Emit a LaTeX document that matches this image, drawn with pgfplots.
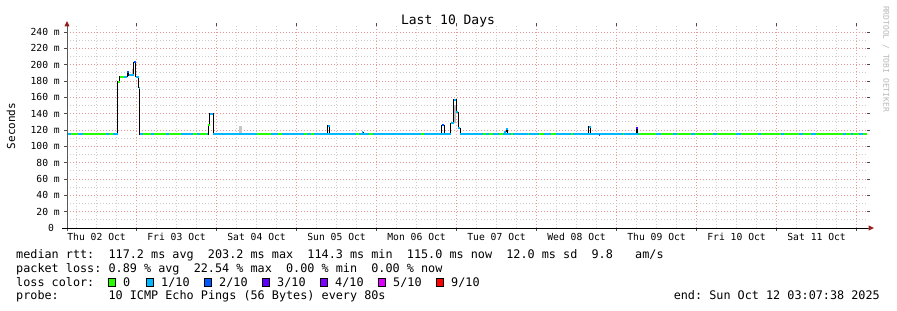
\documentclass[border=0pt]{standalone}
\usepackage{fontspec}
\setmainfont{DejaVu Sans Mono}
\usepackage{pgfplots}
\pgfplotsset{compat=1.18}
\definecolor{lc0}{HTML}{26FF00}
\definecolor{lc1}{HTML}{00B8FF}
\definecolor{lc2}{HTML}{0059FF}
\definecolor{lc3}{HTML}{5E00FF}
\definecolor{lc4}{HTML}{7E00FF}
\definecolor{lc5}{HTML}{DD00FF}
\definecolor{lc9}{HTML}{FF0000}
\definecolor{mgrid}{RGB}{235,150,150}
\definecolor{ngrid}{RGB}{205,205,205}
\definecolor{arrowc}{RGB}{150,30,30}
\newcommand\legfont{\fontsize{11.8bp}{14bp}\selectfont}
\newcommand\tickfont{\fontsize{9.7bp}{11bp}\selectfont}
\begin{document}
\begin{tikzpicture}[x=1bp,y=1bp]
\path[use as bounding box] (0,0) rectangle (897,310);
\begin{axis}[
  at={(67bp,82bp)}, anchor=south west,
  scale only axis, width=800bp, height=202bp,
  xmin=3.127, xmax=243.127, ymin=0, ymax=247.3,
  clip=false,
  axis line style={draw=none},
  xtick={24,48,...,240}, xticklabels={},
  minor xtick={6,12,...,240},
  extra x ticks={12,36,...,228},
  extra x tick labels={Thu 02 Oct, Fri 03 Oct, Sat 04 Oct, Sun 05 Oct, Mon 06 Oct, Tue 07 Oct, Wed 08 Oct, Thu 09 Oct, Fri 10 Oct, Sat 11 Oct},
  extra x tick style={grid=none, major tick length=0pt},
  ytick={0,20,...,240},
  yticklabels={0~~,20 m,40 m,60 m,80 m,100 m,120 m,140 m,160 m,180 m,200 m,220 m,240 m},
  minor ytick={10,30,...,230},
  grid=both,
  major grid style={mgrid, dash pattern=on 1bp off 2bp, line width=0.9bp},
  minor grid style={ngrid, dash pattern=on 1bp off 2bp, line width=0.9bp},
  tick align=outside, major tick length=3bp, minor tick length=0bp,
  tick style={black!70, line width=0.8bp},
  xticklabel style={anchor=north, inner sep=0pt, yshift=-5bp, font=\tickfont},
  yticklabel style={anchor=east, inner sep=0pt, xshift=-4bp, font=\tickfont},
]
% smoke
\addplot[fill=gray!55, draw=none] coordinates {(22.5,187) (23.2,187) (23.2,195) (22.5,195)};
\addplot[fill=gray!45, draw=none] coordinates {(54.7,116) (55.5,116) (55.5,125) (54.7,125)};
\addplot[fill=gray!50, draw=none] coordinates {(119.2,128) (119.9,128) (119.9,150) (119.2,150)};
% median (black steps)
\addplot[black, line width=1bp, const plot, mark=none] coordinates {
(3.127,115) (18.39,179) (18.99,185) (21.2,191) (21.7,187) (23.2,203) (23.8,185) (24.6,172) (25.0,115)
(45.5,126) (46.0,140) (47.0,115) (81.4,125) (81.9,115) (91.7,117) (92.0,115)
(115.6,126) (116.3,115) (118.2,128) (119.2,157) (119.9,142) (120.5,122) (121.1,115)
(134.3,118) (134.9,121) (135.4,115) (159.7,124) (160.3,115) (162.7,114) (163.0,115)
(173.9,123) (174.3,115) (243.127,115)};
% loss 1/10
\addplot[lc1, line width=2bp, mark=none, unbounded coords=jump] coordinates {
(3.127,115) (18.39,115) (18.39,nan)
(25.0,115) (45.5,115) (45.5,nan)
(47.0,115) (118.2,115) (118.2,nan)
(121.1,115) (243.127,115) (243.127,nan)
(20.1,185) (21.2,185) (21.2,nan)
(21.7,187) (23.2,187) (23.2,nan)
(23.8,185) (24.6,185) (24.6,nan)
(24.6,172) (25.0,172) (25.0,nan)
(46.0,140) (47.0,140) (47.0,nan)
(81.4,125) (81.9,125) (81.9,nan)
(91.7,117) (92.0,117) (92.0,nan)
(118.2,128) (119.2,128) (119.2,nan)
(119.2,157) (119.9,157) (119.9,nan)
(119.9,142) (120.5,142) (120.5,nan)
(120.5,122) (121.1,122) (121.1,nan)
(134.3,118) (134.9,118) (134.9,nan)
(134.9,121) (135.4,121) (135.4,nan)
(159.7,124) (160.3,124)};
% loss 0
\addplot[lc0, line width=2bp, mark=none, unbounded coords=jump] coordinates {
(18.39,179) (18.99,179) (18.99,nan)
(18.99,185) (20.1,185) (20.1,nan)
(45.5,126) (46.0,126) (46.0,nan)
(4.2,115) (6.3,115) (6.3,nan)
(7.8,115) (14.7,115) (14.7,nan)
(15.6,115) (16.8,115) (16.8,nan)
(25.8,115) (28.2,115) (28.2,nan)
(29.1,115) (32.7,115) (32.7,nan)
(33.6,115) (37.2,115) (37.2,nan)
(40.8,115) (42.0,115) (42.0,nan)
(42.9,115) (45.0,115) (45.0,nan)
(60.0,115) (64.2,115) (64.2,nan)
(66.3,115) (67.5,115) (67.5,nan)
(74.1,115) (75.0,115) (75.0,nan)
(76.2,115) (77.1,115) (77.1,nan)
(89.7,115) (90.6,115) (90.6,nan)
(93.6,115) (94.8,115) (94.8,nan)
(109.2,115) (110.1,115) (110.1,nan)
(127.8,115) (128.7,115) (128.7,nan)
(129.6,115) (130.8,115) (130.8,nan)
(132.6,115) (133.8,115) (133.8,nan)
(136.2,115) (136.8,115) (136.8,nan)
(141.3,115) (141.6,115) (141.6,nan)
(144.6,115) (146.1,115) (146.1,nan)
(148.2,115) (149.7,115) (149.7,nan)
(154.2,115) (154.8,115) (154.8,nan)
(169.8,115) (170.1,115) (170.1,nan)
(174.6,115) (179.7,115) (179.7,nan)
(181.2,115) (184.8,115) (184.8,nan)
(186.0,115) (190.2,115) (190.2,nan)
(191.4,115) (196.8,115) (196.8,nan)
(198.0,115) (203.7,115) (203.7,nan)
(205.2,115) (210.3,115) (210.3,nan)
(211.2,115) (217.2,115) (217.2,nan)
(218.1,115) (222.6,115) (222.6,nan)
(223.8,115) (226.2,115) (226.2,nan)
(227.7,115) (235.8,115) (235.8,nan)
(236.7,115) (238.2,115) (238.2,nan)
(238.8,115) (240.6,115) (240.6,nan)
(241.8,115) (243.127,115)};
% loss 2/10
\addplot[lc2, line width=2bp, mark=none, unbounded coords=jump] coordinates {
(21.2,191) (21.7,191) (21.7,nan)
(23.2,203) (23.8,203) (23.8,nan)
(115.6,126) (116.3,126) (116.3,nan)
(162.7,114) (163.0,114)};
% loss 3/10
\addplot[lc3, line width=2bp, mark=none] coordinates {(173.9,123) (174.3,123)};
\coordinate (O) at (rel axis cs:0,0);
\coordinate (T) at (rel axis cs:0,1);
\coordinate (R) at (rel axis cs:1,0);
\end{axis}
% axis lines and arrows
\draw[gray!70!black, line width=1bp] ([yshift=-3bp]O) -- (T);
\fill[arrowc] ([yshift=5bp]T) -- ([xshift=-2.6bp,yshift=-0.5bp]T) -- ([xshift=2.6bp,yshift=-0.5bp]T) -- cycle;
\draw[black, line width=1bp] ([xshift=-5bp]O) -- ([xshift=1bp]R);
\fill[arrowc] ([xshift=7bp]R) -- ([xshift=1.5bp,yshift=2.6bp]R) -- ([xshift=1.5bp,yshift=-2.6bp]R) -- cycle;
% titles
\node[anchor=base, inner sep=0] at (448,286) {\fontsize{13bp}{15bp}\selectfont Last~10~Days};
\node[rotate=90, anchor=center, inner sep=0] at (11,184) {\fontsize{11bp}{13bp}\selectfont Seconds};
\node[rotate=-90, anchor=center, inner sep=0, text=gray!55] at (886,251) {\fontsize{8bp}{9bp}\selectfont RRDTOOL~/~TOBI~OETIKER};
% legend text
\node[anchor=base west, inner sep=0] at (16,52) {\legfont median~rtt:~~117.2~ms~avg~~203.2~ms~max~~114.3~ms~min~~115.0~ms~now~~12.0~ms~sd~~9.8};
\node[anchor=base west, inner sep=0] at (635,52) {\legfont am/s};
\node[anchor=base west, inner sep=0] at (16,38) {\legfont packet~loss:~0.89~\%~avg~~22.54~\%~max~~0.00~\%~min~~0.00~\%~now};
\node[anchor=base west, inner sep=0] at (16,24) {\legfont loss~color:};
\foreach \xx/\cc/\tt in {108/lc0/0, 146/lc1/1\slash10, 204/lc2/2\slash10, 262/lc3/3\slash10, 320/lc4/4\slash10, 378/lc5/5\slash10, 436/lc9/9\slash10}{
  \fill[\cc, draw=black, line width=0.6bp] (\xx+0.3,24) rectangle (\xx+7.7,31.5);
  \node[anchor=base west, inner sep=0] at (\xx+15,24) {\legfont \tt};
}
\node[anchor=base west, inner sep=0] at (16,10.5) {\legfont probe:~~~~~~~10~ICMP~Echo~Pings~(56~Bytes)~every~80s};
\node[anchor=base east, inner sep=0] at (880,10.5) {\legfont end:~Sun~Oct~12~03:07:38~2025};
\end{tikzpicture}
\end{document}
